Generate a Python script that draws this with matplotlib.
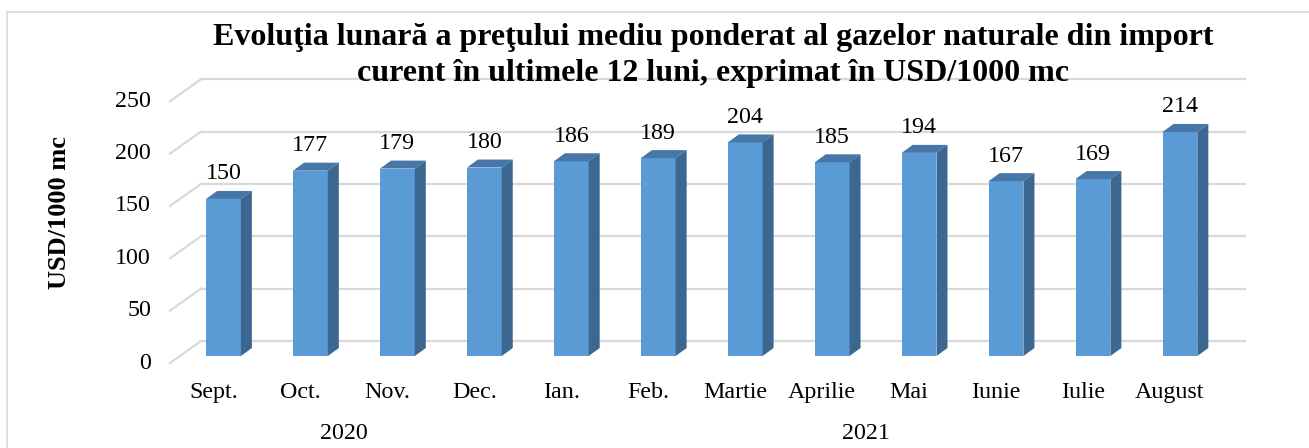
import matplotlib.pyplot as plt
from matplotlib.patches import Polygon, Rectangle
import numpy as np

months = ['Sept.', 'Oct.', 'Nov.', 'Dec.', 'Ian.', 'Feb.', 'Martie',
          'Aprilie', 'Mai', 'Iunie', 'Iulie', 'August']
prices = [150, 177, 179, 180, 186, 189, 204, 185, 194, 167, 169, 214]
years = ['2020', '2021']
year_groups = [(0, 3), (4, 11)]
y_ticks = [0, 50, 100, 150, 200, 250]

title = ('Evoluţia lunară a preţului mediu ponderat al gazelor naturale din import\n'
         'curent în ultimele 12 luni, exprimat în USD/1000 mc')

W, H = 1309, 448
# pixel layout of the 3d box (Excel style)
x0_px, cat_px = 223.5, 86.95     # centre of first bar, step between bars
y0_px, unit_px = 356.0, 1.047    # base of bar front faces, pixels per unit

front_col = '#5b9bd5'
top_col = '#4677a8'
side_col = '#3b6790'
grid_col = '#d9d9d9'
serif = 'Liberation Serif'
fs = 17.3


def px_x(p):
    return (p - x0_px) / cat_px


def px_y(p):
    return p / unit_px


fig = plt.figure(figsize=(W / 100, H / 100), dpi=100)
ax = fig.add_axes([0, 0, 1, 1])
ax.set_xlim(px_x(0), px_x(W))
ax.set_ylim(-(H - y0_px) / unit_px, y0_px / unit_px)
ax.axis('off')

# depth offsets
bar_dx, bar_dy = px_x(x0_px + 11), px_y(8)
back_dy = px_y(15)
front_dy = -px_y(7)
back_left, back_right = px_x(201), px_x(1245)
front_left = px_x(170)

# back wall + left wall gridlines
for g in y_ticks:
    ax.plot([back_left, back_right], [g + back_dy, g + back_dy], color=grid_col, lw=1.6, zorder=1)
    ax.plot([front_left, back_left], [g + front_dy, g + back_dy], color=grid_col, lw=1.6, zorder=1)
    ax.text(px_x(151), g + front_dy, str(g), ha='right', va='center',
            fontsize=fs, family=serif)

w = 0.2
for i, v in enumerate(prices):
    ax.add_patch(Rectangle((i - w, 0), 2 * w, v, facecolor=front_col, edgecolor='none', zorder=3))
    ax.add_patch(Polygon([(i - w, v), (i + w, v), (i + w + bar_dx, v + bar_dy), (i - w + bar_dx, v + bar_dy)],
                         closed=True, facecolor=top_col, edgecolor='none', zorder=3))
    ax.add_patch(Polygon([(i + w, 0), (i + w, v), (i + w + bar_dx, v + bar_dy), (i + w + bar_dx, bar_dy)],
                         closed=True, facecolor=side_col, edgecolor='none', zorder=3))
    ax.text(i, v + px_y(25), str(v), ha='center', va='center', fontsize=fs, family=serif, zorder=4)
    ax.text(i + px_x(x0_px - 10), -px_y(392 - y0_px), months[i], ha='center', va='center',
            fontsize=fs, family=serif)

for yr, (a, b) in zip(years, year_groups):
    ax.text((a + b) / 2 + px_x(x0_px - 10), -px_y(433 - y0_px), yr, ha='center', va='center',
            fontsize=fs, family=serif)

ax.text(px_x(60), px_y(y0_px - 213), 'USD/1000 mc', rotation=90, ha='center', va='center',
        fontsize=19, fontweight='bold', family=serif)

fig.text(713 / W, 1 - 23 / H, title, ha='center', va='top', fontsize=23,
         fontweight='bold', family=serif, linespacing=1.3)

# chart border (left and top edges visible)
fig.add_artist(Rectangle((7 / W, -0.05), 1.1, 1 - 12 / H + 0.05, transform=fig.transFigure,
                         fill=False, edgecolor=grid_col, lw=1.2))

fig.savefig('out.png', dpi=100)
